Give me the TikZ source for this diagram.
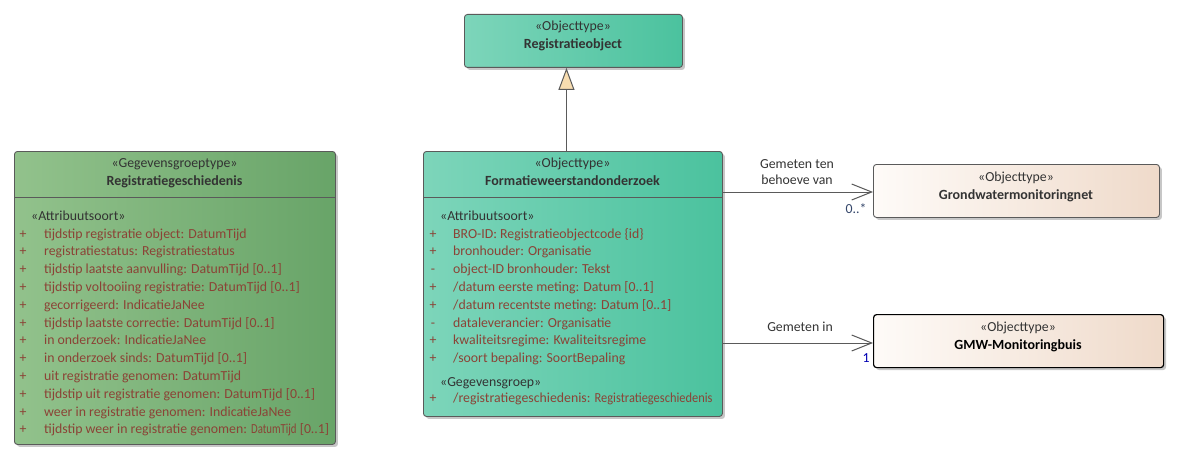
\documentclass[tikz,border=0pt]{standalone}
\usepackage{fontspec}
\usepackage{graphicx}
\setmainfont{Carlito}
\usetikzlibrary{shadows,arrows.meta}
\definecolor{attr}{HTML}{8B4336}
\definecolor{hdr}{HTML}{333333}
\definecolor{tealL}{HTML}{7DD5BA}
\definecolor{tealR}{HTML}{4BC29E}
\definecolor{grnL}{HTML}{92C28C}
\definecolor{grnR}{HTML}{68A468}
\definecolor{sandL}{HTML}{FEFBF8}
\definecolor{sandR}{HTML}{EFDACA}
\definecolor{edge}{HTML}{5A5A5A}
\definecolor{tri}{HTML}{F8DDB0}
\definecolor{mult}{HTML}{34466A}
\newcommand{\squeeze}[2]{\scalebox{#1}[1]{#2}}
\begin{document}
\begin{tikzpicture}[x=1pt,y=-1pt,
  font=\fontsize{13.8}{16}\selectfont,
  box/.style={draw=edge, line width=0.9pt, rounded corners=3pt, anchor=north west, inner sep=0pt,
    drop shadow={shadow xshift=2.5pt,shadow yshift=-2.5pt,opacity=0.22,fill=black}},
  hdrtext/.style={text=hdr, inner sep=0pt, anchor=base},
  nametext/.style={hdrtext, font=\fontsize{14}{16}\selectfont\bfseries},
  sttext/.style={text=hdr, inner sep=0pt, anchor=base west},
  attrtext/.style={text=attr, inner sep=0pt, anchor=base west},
  sign/.style={text=attr, inner sep=0pt, anchor=base},
  sep/.style={draw=edge, line width=0.9pt},
  assoc/.style={draw=edge, line width=1pt, -{Straight Barb[length=20pt,width=16pt,line width=1pt]}},
  lbl/.style={text=hdr, inner sep=0pt, align=center},
  multlbl/.style={text=mult, inner sep=0pt, anchor=base}
]
\useasboundingbox (0,0) rectangle (1181,460);

% ---------- Registratieobject ----------
\node[box, left color=tealL, right color=tealR, minimum width=218pt, minimum height=53pt] (ro) at (464,14) {};
\node[hdrtext] (ro-st) at (573,31) {«Objecttype»};
\node[nametext] (ro-nm) at (573,49) {Registratieobject};

% ---------- Formatieweerstandonderzoek ----------
\node[box, left color=tealL, right color=tealR, minimum width=299pt, minimum height=265pt] (fwo) at (423,151) {};
\draw[sep] (fwo.west |- 0,197) coordinate (fwo-sl) -- (fwo.east |- 0,197) coordinate (fwo-sr);
\node[hdrtext] (fwo-st) at (572.5,167) {«Objecttype»};
\node[nametext] (fwo-nm) at (572.5,185) {Formatieweerstandonderzoek};
\node[sttext] (fwo-as) at (440,220) {«Attribuutsoort»};
\foreach \s/\t [count=\i] in {
  +/{BRO-ID: Registratieobjectcode \{id\}},
  +/{bronhouder: Organisatie},
  -/{object-ID bronhouder: Tekst},
  +/{/datum eerste meting: Datum [0..1]},
  +/{/datum recentste meting: Datum [0..1]},
  -/{dataleverancier: Organisatie},
  +/{kwaliteitsregime: Kwaliteitsregime},
  +/{/soort bepaling: SoortBepaling}}{
  \node[sign] (fwo-s\i) at (433,{238+17.8*(\i-1)}) {\s};
  \node[attrtext] (fwo-a\i) at (453,{238+17.8*(\i-1)}) {\t};
}
\node[sttext] (fwo-gs) at (440,386) {«Gegevensgroep»};
\node[sign] (fwo-gsign) at (433,402) {+};
\node[attrtext] (fwo-g1) at (453,402) {/registratiegeschiedenis: \squeeze{0.9}{Registratiegeschiedenis}};

% ---------- Registratiegeschiedenis ----------
\node[box, left color=grnL, right color=grnR, minimum width=321pt, minimum height=293pt] (rg) at (14,151) {};
\draw[sep] (rg.west |- 0,197) coordinate (rg-sl) -- (rg.east |- 0,197) coordinate (rg-sr);
\node[hdrtext] (rg-st) at (174.5,167) {«Gegevensgroeptype»};
\node[nametext] (rg-nm) at (174.5,185) {Registratiegeschiedenis};
\node[sttext] (rg-as) at (31,220) {«Attribuutsoort»};
\foreach \t [count=\i] in {
  {tijdstip registratie object: DatumTijd},
  {registratiestatus: Registratiestatus},
  {tijdstip laatste aanvulling: DatumTijd [0..1]},
  {tijdstip voltooiing registratie: DatumTijd [0..1]},
  {gecorrigeerd: IndicatieJaNee},
  {tijdstip laatste correctie: DatumTijd [0..1]},
  {in onderzoek: IndicatieJaNee},
  {in onderzoek sinds: DatumTijd [0..1]},
  {uit registratie genomen: DatumTijd},
  {tijdstip uit registratie genomen: DatumTijd [0..1]},
  {weer in registratie genomen: IndicatieJaNee},
  {tijdstip weer in registratie genomen: \squeeze{0.78}{DatumTijd} [0..1]}}{
  \node[sign] (rg-s\i) at (23,{238+17.8*(\i-1)}) {+};
  \node[attrtext] (rg-a\i) at (44,{238+17.8*(\i-1)}) {\t};
}

% ---------- Grondwatermonitoringnet ----------
\node[box, left color=sandL, right color=sandR, minimum width=286pt, minimum height=53pt] (gmn) at (873,164) {};
\node[hdrtext] (gmn-st) at (1016,181) {«Objecttype»};
\node[nametext] (gmn-nm) at (1016,199) {Grondwatermonitoringnet};

% ---------- GMW-Monitoringbuis ----------
\node[box, draw=black, line width=1.2pt, left color=sandL, right color=sandR, minimum width=290pt, minimum height=53pt] (gmb) at (873,314) {};
\node[hdrtext] (gmb-st) at (1018,331) {«Objecttype»};
\node[nametext, text=black] (gmb-nm) at (1018,349) {GMW-Monitoringbuis};

% ---------- Connectors ----------
\draw[draw=edge, line width=1pt, -{Triangle[length=22pt,width=16pt,fill=tri]}]
  ([xshift=-6.5pt]fwo.north) -- ([xshift=-7pt]ro.south);

\draw[assoc] (fwo.east |- 0,192) coordinate (a1s) -- (gmn.west |- a1s) coordinate (a1e);
\node[lbl] (a1l) at (797,172) {Gemeten ten\\behoeve van};
\node[multlbl] (a1m) at (856,213) {0..*};

\draw[assoc] (fwo.east |- 0,343) coordinate (a2s) -- (gmb.west |- a2s) coordinate (a2e);
\node[lbl] (a2l) at (800,327) {Gemeten in};
\node[multlbl, text=blue!70!black] (a2m) at (866,362) {1};
\end{tikzpicture}
\end{document}
